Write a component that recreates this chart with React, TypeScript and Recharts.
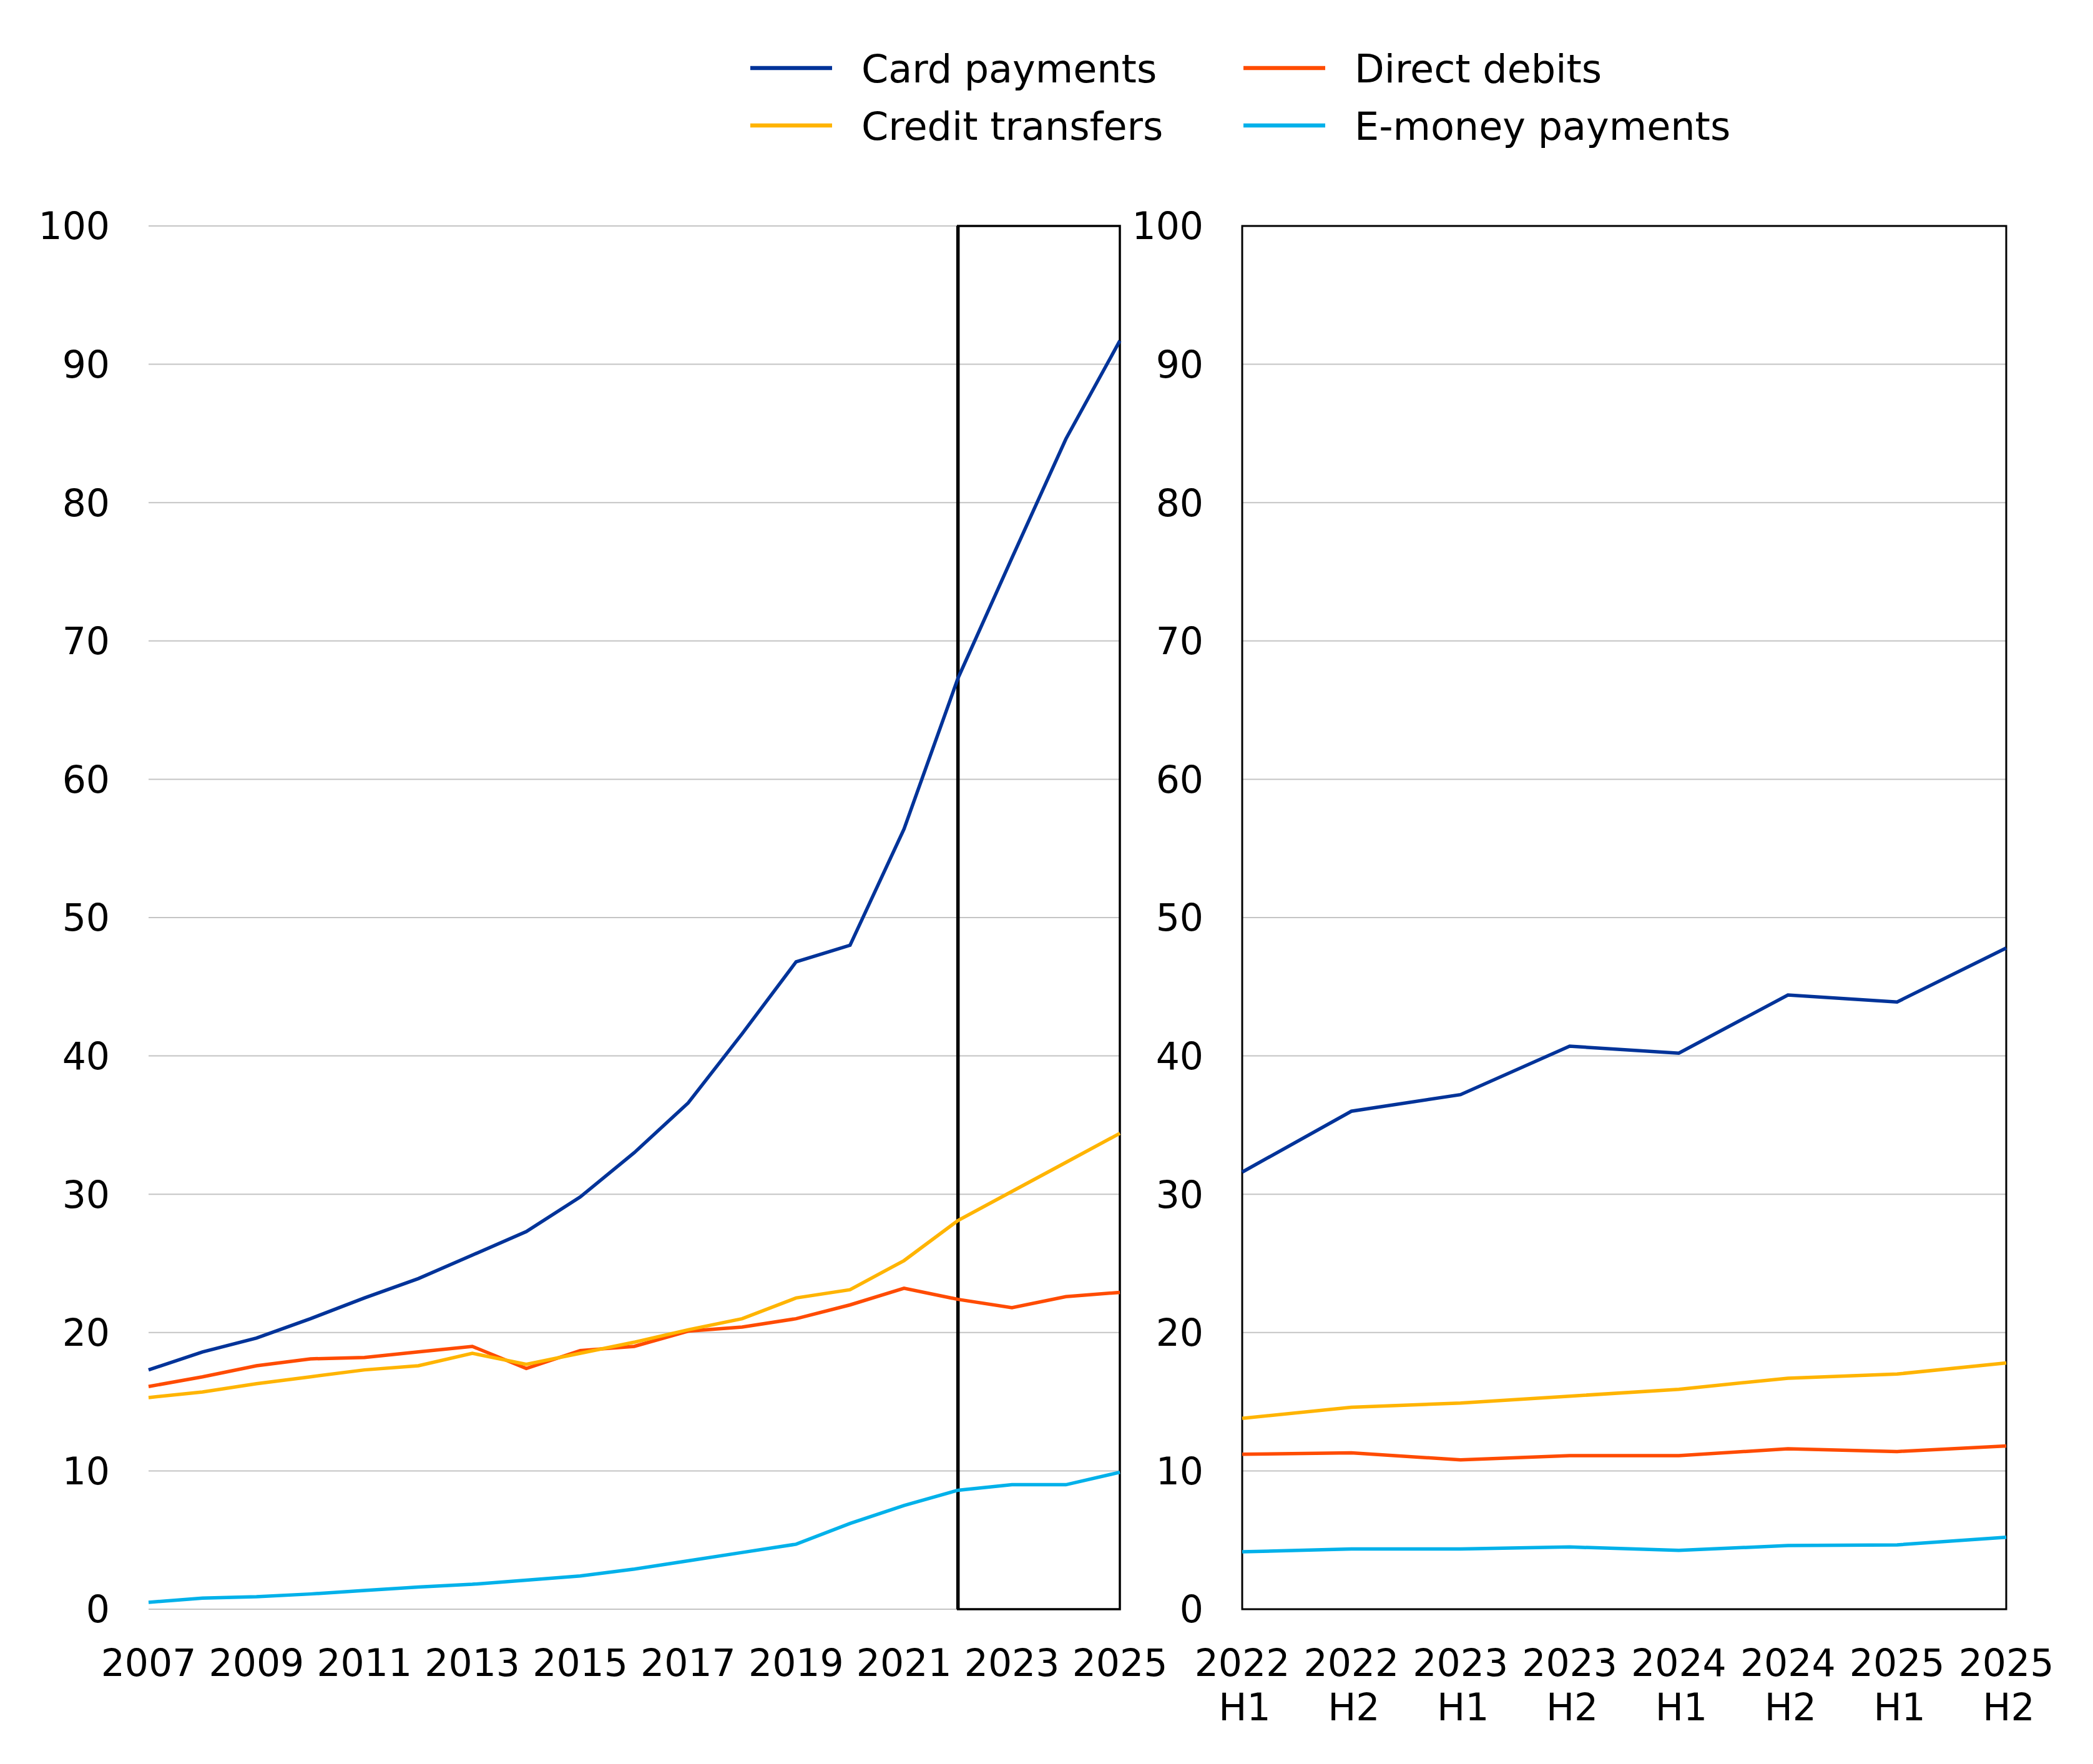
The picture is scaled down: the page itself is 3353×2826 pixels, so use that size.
import React from 'react';
import { LineChart, Line, XAxis, YAxis, CartesianGrid, ReferenceArea, ReferenceLine } from 'recharts';

// ---- Data ----
const years = ['2007','2008','2009','2010','2011','2012','2013','2014','2015','2016','2017','2018','2019','2020','2021','2022','2023','2024','2025'];
const cardAnnual = [17.3,18.6,19.6,21.0,22.5,23.9,25.6,27.3,29.8,33.0,36.6,41.6,46.8,48.0,56.4,67.3,76.0,84.6,91.7];
const creditAnnual = [15.3,15.7,16.3,16.8,17.3,17.6,18.5,17.7,18.5,19.3,20.2,21.0,22.5,23.1,25.2,28.1,30.2,32.3,34.4];
const directAnnual = [16.1,16.8,17.6,18.1,18.2,18.6,19.0,17.4,18.7,19.0,20.1,20.4,21.0,22.0,23.2,22.4,21.8,22.6,22.9];
const emoneyAnnual = [0.5,0.8,0.9,1.1,1.35,1.6,1.8,2.1,2.4,2.9,3.5,4.1,4.7,6.2,7.5,8.6,9.0,9.0,9.9];

const halves = ['2022 H1','2022 H2','2023 H1','2023 H2','2024 H1','2024 H2','2025 H1','2025 H2'];
const cardHalf = [31.6,36.0,37.2,40.7,40.2,44.4,43.9,47.8];
const creditHalf = [13.8,14.6,14.9,15.4,15.9,16.7,17.0,17.8];
const directHalf = [11.2,11.3,10.8,11.1,11.1,11.6,11.4,11.8];
const emoneyHalf = [4.15,4.35,4.35,4.5,4.25,4.6,4.65,5.2];

const yTicks = [0,10,20,30,40,50,60,70,80,90,100];

const seriesNames = ['Card payments','Direct debits','Credit transfers','E-money payments'];
const seriesKeys = ['card','direct','credit','emoney'];
const seriesColors = ['#003399','#FF4B00','#FFB400','#00B1EA'];

const annualData = years.map((y, i) => ({
  period: y,
  card: cardAnnual[i],
  credit: creditAnnual[i],
  direct: directAnnual[i],
  emoney: emoneyAnnual[i],
}));

const halfData = halves.map((h, i) => ({
  period: h,
  card: cardHalf[i],
  credit: creditHalf[i],
  direct: directHalf[i],
  emoney: emoneyHalf[i],
}));

const FONT = '"DejaVu Sans", Verdana, sans-serif';
const FS = 60;

const TwoLineTick = (props: any) => {
  const { x, y, payload } = props;
  const parts = String(payload.value).split(' ');
  return (
    <text x={x} y={y} textAnchor="middle" fill="#000" fontFamily={FONT} fontSize={FS}>
      <tspan x={x} y={y + 107}>{parts[0]}</tspan>
      <tspan x={x + 4} y={y + 178}>{parts[1]}</tspan>
    </text>
  );
};

const renderLines = () =>
  seriesKeys.map((k, i) => (
    <Line
      key={k}
      type="linear"
      dataKey={k}
      stroke={seriesColors[i]}
      strokeWidth={5.5}
      dot={false}
      activeDot={false}
      isAnimationActive={false}
    />
  ));

const Legend2 = () => {
  const cols = [1202, 1992];
  const rows = [109, 201];
  return (
    <svg width={3353} height={260} style={{ position: 'absolute', left: 0, top: 0 }}>
      {seriesNames.map((name, i) => {
        const cx = cols[i % 2];
        const cy = rows[Math.floor(i / 2)];
        return (
          <g key={name}>
            <line x1={cx} x2={cx + 131} y1={cy} y2={cy} stroke={seriesColors[i]} strokeWidth={6.5} />
            <text x={cx + 178} y={cy + 23} fontFamily={FONT} fontSize={62} fill="#000">{name}</text>
          </g>
        );
      })}
    </svg>
  );
};

export default function App() {
  return (
    <div style={{ position: 'absolute', left: 0, top: 0, width: 3353, height: 2826, background: '#fff', overflow: 'hidden' }}>
      <Legend2 />
      <div style={{ position: 'absolute', left: 0, top: 0 }}>
        <LineChart width={1900} height={2826} data={annualData} margin={{ top: 362, right: 106, bottom: 98, left: 0 }}>
          <CartesianGrid vertical={false} stroke="#c4c4c4" strokeWidth={2} />
          <XAxis
            dataKey="period"
            interval={1}
            height={150}
            axisLine={false}
            tickLine={false}
            tickSize={0}
            tickMargin={64}
            tick={{ fill: '#000', fontSize: FS, fontFamily: FONT }}
          />
          <YAxis
            domain={[0, 100]}
            ticks={yTicks}
            width={238}
            axisLine={false}
            tickLine={false}
            tickSize={0}
            tickMargin={62}
            tick={{ fill: '#000', fontSize: FS, fontFamily: FONT }}
          />
          <ReferenceArea x1="2022" x2="2025" y1={0} y2={100} fill="none" stroke="#000" strokeWidth={3.5} ifOverflow="visible" />
          <ReferenceLine x="2022" stroke="#000" strokeWidth={5.5} ifOverflow="visible" />
          {renderLines()}
        </LineChart>
      </div>
      <div style={{ position: 'absolute', left: 1800, top: 0 }}>
        <LineChart width={1553} height={2826} data={halfData} margin={{ top: 362, right: 139, bottom: 98, left: 0 }}>
          <CartesianGrid vertical={false} stroke="#c4c4c4" strokeWidth={2} />
          <XAxis
            dataKey="period"
            interval={0}
            height={150}
            axisLine={false}
            tickLine={false}
            tickSize={0}
            tickMargin={0}
            tick={<TwoLineTick />}
          />
          <YAxis
            domain={[0, 100]}
            ticks={yTicks}
            width={190}
            axisLine={false}
            tickLine={false}
            tickSize={0}
            tickMargin={62}
            tick={{ fill: '#000', fontSize: FS, fontFamily: FONT }}
          />
          <ReferenceArea x1={halves[0]} x2={halves[halves.length - 1]} y1={0} y2={100} fill="none" stroke="#000" strokeWidth={3} ifOverflow="visible" />
          {renderLines()}
        </LineChart>
      </div>
    </div>
  );
}
